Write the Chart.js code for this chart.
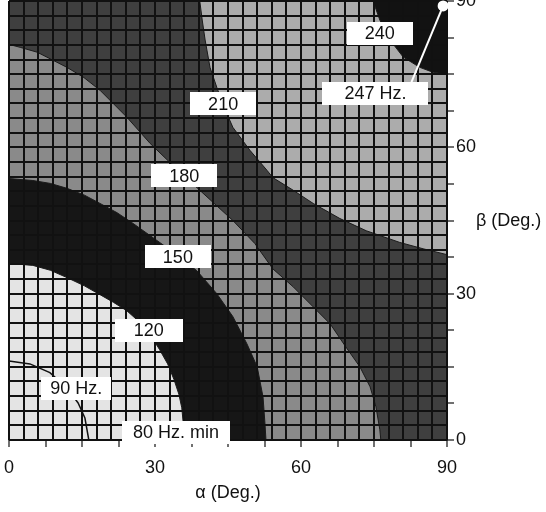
<!DOCTYPE html>
<html>
<head>
<meta charset="utf-8">
<script src="https://cdn.jsdelivr.net/npm/chart.js@4/dist/chart.umd.min.js"></script>
<style>
  html, body { margin: 0; padding: 0; background: #fff; }
  #wrap { width: 546px; height: 512px; }
</style>
</head>
<body>
<div id="wrap"><canvas id="myChart"></canvas></div>
<script>
// axis ranges and tick labels (degrees)
const alphaRange = [0, 90];
const betaRange = [0, 90];
const tickLabels = [0, 30, 60, 90];

// contour lines, [alpha, beta]
const c90 = [[0, 16.2], [4.3, 15.6], [8.4, 13.8], [11.9, 10.7], [14.2, 7.6], [15.6, 4.5], [16.4, 0]];
const c120 = [[0, 36.2], [4.9, 35.8], [8.5, 34.8], [11.9, 33.3], [15.5, 31.6], [18.7, 29.8], [21.5, 28.2],
  [24.2, 26.5], [26.8, 24.2], [29, 21.6], [30.9, 18.6], [32.6, 15.6], [33.9, 12.4], [34.9, 9.4],
  [35.5, 6.6], [35.8, 3.5], [35.8, 0]];
const c150 = [[0, 53.6], [4.9, 53.2], [8.5, 52.6], [11.9, 51.6], [15.5, 50.2], [18.7, 48.5], [22.2, 46.6],
  [25.5, 44.4], [30.4, 40.9], [34.6, 37.9], [38.6, 34.7], [42.7, 30], [46, 25.3], [48.9, 19.7],
  [51, 15], [52.2, 8.8], [52.6, 3.3], [52.8, 0]];
const c180 = [[0, 81.1], [2.3, 80.5], [5.8, 79.5], [11.9, 76.4], [15.4, 74.3], [18.7, 71.7], [24.2, 66.2],
  [29, 60.8], [34, 56], [39.2, 51.2], [46, 45], [50.5, 40.3], [54.2, 35.1], [58.4, 31.4], [62.5, 27.3],
  [66, 23.8], [69.2, 19.1], [72.1, 15], [74.2, 10.9], [75.4, 6.8], [76.2, 2.1], [76.4, 0]];
const c210 = [[39.2, 90], [39.7, 86.1], [40.3, 82], [41.3, 76.4], [42.7, 72.3], [44.2, 68.2], [46, 64.1],
  [49.5, 59.4], [53, 55.3], [54.2, 53.8], [58.4, 51.2], [62.5, 48.5], [68, 45.4], [73.4, 42.9],
  [80.3, 40.5], [85.1, 39.2], [90, 38]];
const c240 = [[74.8, 90], [76.2, 86.1], [78.3, 82], [81, 78.5], [84.4, 76.4], [87.1, 75.4], [90, 75]];
const peak = [89.2, 89];

// contour labels: text, alpha, beta, box width (px)
const labels = [
  ['240', 76.2, 83.4, 66],
  ['247 Hz.', 75.3, 71.1, 106],
  ['210', 44, 68.9, 66],
  ['180', 36, 54.2, 66],
  ['150', 34.7, 37.6, 66],
  ['120', 28.7, 22.5, 68],
  ['90 Hz.', 13.8, 10.6, 70],
  ['80 Hz. min', 34.3, 1.6, 108]
];

const toPts = arr => arr.map(p => ({ x: p[0], y: p[1] }));
const lowRegion = arr => toPts([[0, 0], ...arr, [0, 0]]);
const highRegion = arr => toPts([...arr, [alphaRange[1], betaRange[1]], arr[0]]);
const fullRegion = toPts([[alphaRange[0], betaRange[0]], [alphaRange[1], betaRange[0]],
  [alphaRange[1], betaRange[1]], [alphaRange[0], betaRange[1]], [alphaRange[0], betaRange[0]]]);

function band(data, color, order) {
  return {
    data: data, showLine: true, fill: 'shape', backgroundColor: color,
    borderColor: '#1a1a1a', borderWidth: 1, pointRadius: 0, tension: 0, order: order
  };
}

const FONT = 'Liberation Sans, Arial, Helvetica, sans-serif';
const near = (v, step) => Math.abs(v / step - Math.round(v / step)) < 1e-6;

const decorations = {
  id: 'decorations',
  afterDraw(chart) {
    const ctx = chart.ctx;
    const xs = chart.scales.x, ys = chart.scales.y;
    ctx.save();
    // leader line and dot for the maximum
    const lab = labels[1];
    ctx.strokeStyle = '#fff';
    ctx.lineWidth = 2;
    ctx.beginPath();
    ctx.moveTo(xs.getPixelForValue(lab[1]) + 36, ys.getPixelForValue(lab[2]) - 11);
    ctx.lineTo(xs.getPixelForValue(peak[0]), ys.getPixelForValue(peak[1]));
    ctx.stroke();
    ctx.fillStyle = '#fff';
    ctx.beginPath();
    ctx.arc(xs.getPixelForValue(peak[0]), ys.getPixelForValue(peak[1]), 5.5, 0, Math.PI * 2);
    ctx.fill();
    // label boxes
    ctx.font = '18px ' + FONT;
    ctx.textAlign = 'center';
    ctx.textBaseline = 'middle';
    labels.forEach(l => {
      const px = xs.getPixelForValue(l[1]), py = ys.getPixelForValue(l[2]);
      ctx.fillStyle = '#fff';
      ctx.fillRect(Math.round(px - l[3] / 2), Math.round(py - 11.5), l[3], 23);
      ctx.fillStyle = '#111';
      ctx.fillText(l[0], px, py + 1);
    });
    // axis titles
    const ca = chart.chartArea;
    ctx.fillText('\u03b1 (Deg.)', (ca.left + ca.right) / 2, 493);
    ctx.textAlign = 'left';
    ctx.fillText('\u03b2 (Deg.)', 476, (ca.top + ca.bottom) / 2 + 1);
    ctx.restore();
  }
};

const axisCommon = {
  type: 'linear',
  ticks: {
    stepSize: 1.5,
    autoSkip: false,
    maxRotation: 0,
    color: '#111',
    font: { family: FONT, size: 18 },
    callback: v => (tickLabels.some(t => Math.abs(t - v) < 1e-6) ? String(v) : '')
  },
  grid: {
    z: 1,
    color: c => (near(c.tick.value, 3) ? '#111' : 'rgba(0,0,0,0)'),
    tickColor: c => (near(c.tick.value, 7.5) ? '#111' : 'rgba(0,0,0,0)'),
    lineWidth: 2,
    tickLength: 7,
    tickWidth: 1.2
  },
  border: { display: true, color: '#111', width: 1.5, z: 1 }
};

new Chart('myChart', {
  type: 'scatter',
  data: {
    datasets: [
      { data: toPts(c90), showLine: true, fill: false, borderColor: '#111', borderWidth: 1.5, pointRadius: 0, order: 1 },
      band(lowRegion(c120), '#e4e4e4', 2),
      band(lowRegion(c150), '#161616', 3),
      band(lowRegion(c180), '#8a8a8a', 4),
      band(highRegion(c240), '#121212', 5),
      band(highRegion(c210), '#acacac', 6),
      band(fullRegion, '#3f3f3f', 7)
    ]
  },
  options: {
    responsive: true,
    maintainAspectRatio: false,
    animation: false,
    layout: { padding: { left: 9, top: 1, right: 0, bottom: 0 } },
    plugins: { legend: { display: false }, tooltip: { enabled: false } },
    scales: {
      x: Object.assign({}, axisCommon, {
        position: 'bottom', min: alphaRange[0], max: alphaRange[1],
        ticks: Object.assign({}, axisCommon.ticks, { padding: 10 }),
        afterFit: s => { s.height = 72; s.paddingLeft = 0; s.paddingRight = 0; }
      }),
      y: Object.assign({}, axisCommon, {
        position: 'right', min: betaRange[0], max: betaRange[1],
        ticks: Object.assign({}, axisCommon.ticks, { padding: 2 }),
        afterFit: s => { s.width = 99; s.paddingTop = 0; s.paddingBottom = 0; }
      })
    }
  },
  plugins: [decorations]
});
</script>
</body>
</html>
